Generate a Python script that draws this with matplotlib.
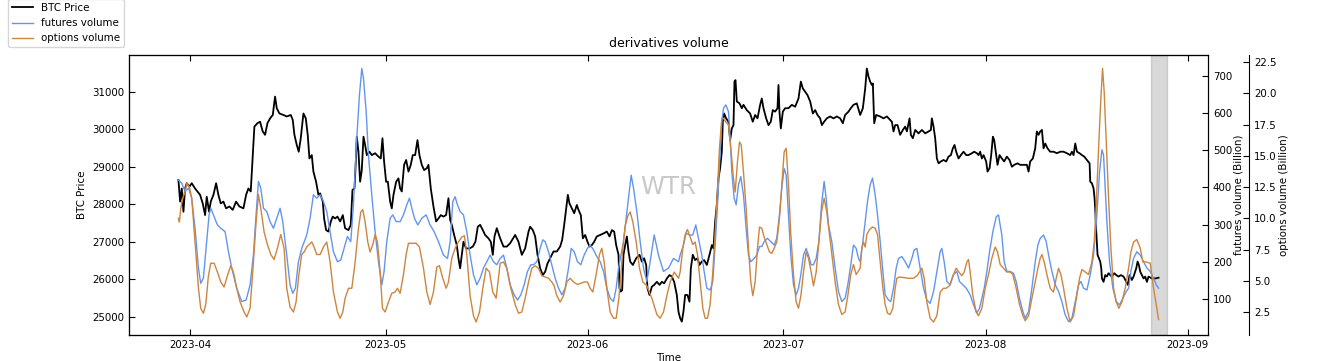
#!/usr/bin/env python3
import matplotlib
matplotlib.use('Agg')
import matplotlib.pyplot as plt
import matplotlib.dates as mdates
import pandas as pd

START = pd.Timestamp('2023-04-01')

# (days since 2023-04-01, BTC price)
btc_points = [
    (-1.79, 28650), (-1.53, 28070), (-1.28, 28420), (-1.02, 27800), (-0.77, 28420),
    (-0.51, 28560), (-0.10, 28470), (0.25, 28560), (0.76, 28420), (1.12, 28340),
    (1.53, 28250), (1.94, 28020), (2.30, 27710), (2.55, 28200), (2.91, 27800),
    (3.17, 28070), (3.58, 28250), (3.99, 28560), (4.34, 28250), (4.70, 28020),
    (5.11, 28070), (5.52, 27890), (6.03, 27940), (6.54, 27850), (7.05, 28070),
    (7.56, 27940), (8.18, 27890), (8.59, 28250), (8.94, 28420), (9.30, 28340),
    (9.56, 29140), (9.86, 30070), (10.32, 30160), (10.73, 30200), (11.14, 29940),
    (11.50, 29850), (11.86, 30160), (12.27, 30290), (12.68, 30380), (13.03, 30870),
    (13.29, 30560), (13.70, 30420), (14.31, 30380), (14.82, 30340), (15.44, 30380),
    (15.74, 30250), (16.00, 29850), (16.36, 29580), (16.66, 29400), (16.97, 29760),
    (17.38, 30420), (17.74, 30290), (18.04, 29850), (18.30, 29220), (18.66, 29310),
    (18.91, 28870), (19.32, 28600), (19.68, 28250),
    (19.94, 28290), (20.35, 28070), (20.55, 27620), (20.86, 27310), (21.22, 27270),
    (21.58, 27540), (21.88, 27670), (22.24, 27620), (22.60, 27670), (23.01, 27540),
    (23.42, 27710), (23.77, 27360), (24.29, 27310), (24.64, 27450), (24.90, 28380),
    (25.21, 28420), (25.46, 29310), (25.56, 29800), (25.82, 29400), (26.07, 28600),
    (26.33, 28910), (26.59, 29800), (26.84, 29580), (27.10, 29310), (27.51, 29400),
    (27.86, 29310), (28.37, 29360), (28.89, 29270), (29.24, 29220), (29.50, 29760),
    (29.75, 29140), (30.06, 28600), (30.32, 28600), (30.68, 28070), (30.93, 27890),
    (31.19, 28250), (31.60, 28600), (31.95, 28690), (32.21, 28420), (32.46, 28340),
    (32.82, 29050), (33.13, 29180), (33.49, 28870), (33.84, 29050), (34.15, 29310),
    (34.51, 29310), (34.87, 29710), (35.17, 29310), (35.53, 29050), (35.89, 28910),
    (36.30, 28960), (36.55, 29050), (36.91, 28420), (37.32, 27940), (37.73, 27540),
    (38.09, 27620), (38.45, 27710), (38.85, 27670), (39.26, 27710), (39.62, 28160),
    (39.88, 27580), (40.13, 27450), (40.49, 27180), (40.90, 26910), (41.15, 26560),
    (41.41, 26290), (41.67, 26650), (41.92, 27000), (42.33, 26820), (42.84, 26820),
    (43.35, 26870), (43.76, 27000), (44.12, 27400), (44.48, 27450), (44.89, 27310),
    (45.24, 27180), (45.76, 27090), (46.11, 27000), (46.42, 26650), (46.68, 27140),
    (47.03, 27360),
    (47.55, 27090), (48.06, 26870), (48.57, 26870), (49.08, 26960), (49.85, 27180),
    (50.36, 27000), (50.87, 26650), (51.38, 26820), (51.90, 27270), (52.15, 27400),
    (52.56, 27310), (52.92, 27140), (53.28, 26650), (53.68, 26290), (54.09, 26110),
    (54.45, 26200), (54.81, 26420), (55.22, 26560), (55.73, 26740), (56.24, 26740),
    (56.75, 26870), (57.06, 27050), (57.37, 27450), (57.62, 27800), (57.93, 28250),
    (58.18, 28020), (58.54, 27890), (58.90, 27760), (59.31, 27980), (59.56, 27850),
    (59.92, 27710), (60.23, 27090), (60.59, 27180), (60.94, 27000), (61.25, 26870),
    (61.61, 26910), (61.97, 27000), (62.37, 27140), (62.89, 27180), (63.40, 27220),
    (63.91, 27270), (64.32, 27140), (64.68, 27310), (65.03, 27270), (65.34, 26910),
    (65.70, 26650), (65.85, 25760), (66.06, 25670), (66.26, 25710), (66.46, 26650),
    (66.72, 26910), (66.98, 27140), (67.23, 26740), (67.49, 26470), (67.90, 26380),
    (68.41, 26560), (68.92, 26650), (69.28, 26470), (69.63, 26560), (69.94, 26380),
    (70.14, 25760), (70.45, 25580), (70.81, 25800), (71.17, 25850), (71.58, 25930),
    (71.99, 25850), (72.34, 25930), (72.70, 25890), (73.11, 26020), (73.52, 26110),
    (73.88, 26070), (74.23, 25930), (74.64, 25580), (74.90, 25130),
    (75.15, 24960), (75.41, 24870), (75.66, 25140), (75.92, 25580), (76.27, 25580),
    (76.58, 25400), (76.79, 26290), (77.09, 26650), (77.45, 26510), (77.81, 26560),
    (78.12, 26380), (78.47, 26470), (78.83, 26510), (79.24, 26380), (79.65, 26650),
    (80.01, 26910), (80.26, 26820), (80.52, 27540), (80.77, 27980), (81.03, 28690),
    (81.28, 28960), (81.54, 29400), (81.69, 30200), (81.90, 30420), (82.20, 30290),
    (82.56, 30200), (82.82, 29710), (83.07, 30020), (83.33, 30110), (83.48, 31270),
    (83.64, 31310), (83.84, 30740), (84.25, 30690), (84.61, 30560), (84.86, 30650),
    (85.37, 30510), (85.88, 30420), (86.29, 30200), (86.65, 30380), (87.01, 30290),
    (87.42, 30650), (87.67, 30820), (87.93, 30560), (88.34, 30290), (88.70, 30110),
    (89.05, 30200), (89.36, 30510), (89.72, 30470), (90.08, 30560), (90.23, 31180),
    (90.38, 30470), (90.59, 30020), (90.90, 30470), (91.25, 30560), (91.76, 30560),
    (92.28, 30650), (92.79, 30600), (93.30, 30820), (93.66, 31270), (93.96, 31090),
    (94.32, 31000), (94.68, 30910), (95.09, 30740), (95.50, 30420), (95.86, 30510),
    (96.21, 30380), (96.62, 30290), (96.88, 30110), (97.23, 30200), (97.64, 30290),
    (98.15, 30340), (98.67, 30290), (99.18, 30340), (99.69, 30290), (100.10, 30160),
    (100.45, 30380), (100.97, 30470), (101.32, 30560), (101.73, 30650), (102.24, 30690),
    (102.76, 30380), (103.17, 30560), (103.53, 31090), (103.78, 31620), (104.04, 31400),
    (104.29, 31270), (104.55, 31180), (104.70, 31220), (104.91, 30160), (105.21, 30380),
    (105.83, 30340), (106.34, 30290), (106.85, 30340), (107.36, 30250), (107.62, 30200),
    (107.87, 29940), (108.13, 30110), (108.49, 30110), (108.89, 29850), (109.30, 29980),
    (109.66, 30070), (109.92, 29940), (110.33, 30290), (110.53, 29850), (110.84, 29760),
    (111.20, 29980), (111.71, 29890), (112.22, 29980), (112.73, 29890), (113.24, 29940),
    (113.60, 29980), (113.75, 30290), (114.01, 30070), (114.26, 29760), (114.52, 29220),
    (114.78, 29090), (115.13, 29140), (115.54, 29180), (115.95, 29140), (116.31, 29270),
    (116.67, 29310), (116.97, 29490), (117.23, 29580), (117.48, 29400), (117.84, 29220),
    (118.20, 29310), (118.61, 29400), (119.02, 29310), (119.37, 29310), (119.89, 29360),
    (120.24, 29400), (120.65, 29360), (120.91, 29310), (121.16, 29400), (121.42, 29220),
    (121.68, 29310), (122.08, 29140), (122.29, 28870), (122.60, 28960), (122.85, 29310),
    (123.11, 29800), (123.31, 29710), (123.62, 29310), (123.82, 29050), (124.13, 29310),
    (124.48, 29220), (124.84, 29140), (125.25, 29270), (125.66, 29180), (126.02, 29000),
    (126.38, 29050), (126.89, 29090), (127.30, 29050), (127.81, 29050), (128.32, 29050),
    (128.58, 28870), (128.83, 29140), (129.24, 29220), (129.60, 29490), (129.85, 29940),
    (130.11, 29850),
    (130.37, 29940), (130.63, 29980), (130.88, 29490), (131.14, 29620), (131.49, 29490),
    (131.90, 29400), (132.41, 29400), (132.93, 29360), (133.44, 29400), (133.95, 29400),
    (134.46, 29360), (134.97, 29310), (135.23, 29400), (135.48, 29310), (135.74, 29620),
    (136.00, 29400), (136.40, 29360), (136.76, 29310), (137.12, 29270), (137.53, 29180),
    (137.94, 29090), (138.04, 28600), (138.29, 28560), (138.55, 28420), (138.70, 28160),
    (138.80, 27890), (138.96, 27270), (139.16, 26650), (139.37, 26560), (139.57, 26470),
    (139.73, 26290), (139.83, 26020), (140.08, 25930), (140.34, 26110), (140.59, 26070),
    (140.85, 26160), (141.10, 26110), (141.36, 26070), (141.72, 26160), (142.03, 26110),
    (142.38, 26070), (142.74, 26110), (143.15, 26070), (143.56, 25930), (143.81, 25850),
    (144.07, 26110), (144.43, 25980), (144.68, 26070), (145.09, 26290), (145.30, 26470),
    (145.50, 26380), (145.71, 26200), (145.96, 26110), (146.22, 26020), (146.47, 26070),
    (146.73, 25930), (146.98, 26070), (147.50, 26020), (148.01, 26020), (148.52, 26040),
]

# (days since 2023-04-01, futures volume in billion)
futures_points = [
    (-1.79, 420), (-1.28, 411), (-0.77, 389), (-0.26, 398), (0.25, 371), (0.76, 290),
    (1.28, 183), (1.63, 142), (2.04, 156), (2.55, 254), (2.91, 326), (3.17, 344),
    (3.58, 326), (4.19, 299), (4.70, 290), (5.37, 281), (5.88, 227), (6.39, 183),
    (7.15, 129), (7.92, 93), (8.59, 97), (9.20, 138), (9.71, 218), (10.12, 326),
    (10.48, 416), (10.84, 398), (11.25, 344), (11.76, 335), (12.27, 308), (12.78, 290),
    (13.29, 317), (13.80, 344), (14.21, 308), (14.82, 218), (15.33, 138), (15.74, 115),
    (16.15, 129), (16.61, 200), (17.12, 236), (17.89, 272), (18.40, 317), (18.91, 380),
    (19.42, 371),
    (19.94, 380), (20.45, 362), (20.96, 335), (21.47, 281), (21.98, 227), (22.60, 200),
    (23.11, 205), (23.62, 236), (24.13, 268), (24.64, 254), (25.05, 353), (25.56, 532),
    (25.97, 648), (26.33, 720), (26.59, 693), (27.00, 604), (27.35, 487), (27.86, 380),
    (28.37, 281), (28.89, 200), (29.40, 138), (29.75, 174), (30.16, 254), (30.68, 317),
    (31.08, 326), (31.60, 308), (32.21, 308), (32.72, 326), (33.23, 353), (33.64, 371),
    (34.00, 344), (34.41, 317), (34.92, 299), (35.53, 317), (36.20, 326), (36.81, 299),
    (37.42, 281), (38.09, 254), (38.85, 218), (39.47, 209), (39.88, 254), (40.29, 362),
    (40.64, 375), (41.00, 353), (41.41, 335), (41.92, 326), (42.43, 281), (42.94, 218),
    (43.46, 165), (43.97, 138), (44.48, 156), (44.99, 183), (45.50, 200), (46.01, 218),
    (46.52, 200), (47.03, 192),
    (47.55, 209), (48.06, 218), (48.57, 183), (49.08, 138), (49.70, 111), (50.21, 97),
    (50.72, 111), (51.23, 138), (51.74, 174), (52.25, 192), (52.66, 192), (53.17, 200),
    (53.68, 236), (54.09, 259), (54.45, 254), (54.96, 227), (55.47, 192), (55.98, 156),
    (56.50, 129), (57.01, 111), (57.52, 129), (58.03, 183), (58.44, 236), (58.90, 227),
    (59.41, 200), (59.92, 192), (60.43, 218), (60.94, 236), (61.35, 245), (61.86, 232),
    (62.37, 214), (62.89, 200), (63.40, 174), (63.91, 129), (64.42, 102), (64.93, 93),
    (65.34, 129), (65.70, 183), (66.06, 218), (66.46, 254), (66.87, 317), (67.23, 371),
    (67.64, 433), (68.00, 398), (68.51, 335), (69.02, 254), (69.53, 183), (70.04, 147),
    (70.55, 200), (71.17, 272), (71.83, 218), (72.60, 174), (73.37, 183), (74.13, 209),
    (74.90, 200),
    (75.15, 218), (75.66, 245), (76.07, 277), (76.58, 272), (77.09, 272), (77.55, 299),
    (77.96, 263), (78.47, 218), (78.83, 174), (79.24, 129), (79.75, 124), (80.16, 147),
    (80.52, 245), (80.88, 353), (81.18, 460), (81.54, 577), (81.80, 613), (82.15, 622),
    (82.56, 604), (82.82, 532), (83.07, 442), (83.43, 371), (83.74, 353), (84.10, 407),
    (84.45, 429), (84.86, 380), (85.27, 290), (85.63, 218), (85.99, 200), (86.50, 209),
    (86.91, 218), (87.32, 241), (87.67, 241), (88.03, 254), (88.54, 263), (89.05, 254),
    (89.57, 245), (89.97, 263), (90.38, 326), (90.74, 398), (91.10, 451), (91.41, 433),
    (91.76, 326), (92.12, 218), (92.53, 138), (92.94, 111), (93.30, 129), (93.66, 165),
    (94.07, 218), (94.47, 236), (94.83, 218), (95.24, 192), (95.60, 192), (96.01, 209),
    (96.42, 254), (96.83, 353), (97.23, 416), (97.54, 371), (97.90, 299), (98.41, 254),
    (98.92, 183), (99.43, 120), (99.94, 93), (100.45, 102), (100.86, 138), (101.32, 192),
    (101.73, 245), (102.14, 236), (102.50, 209),
    (102.76, 200), (103.17, 254), (103.53, 308), (103.88, 362), (104.29, 407), (104.65, 425),
    (105.06, 380), (105.42, 326), (105.83, 254), (106.24, 174), (106.59, 111), (107.11, 97),
    (107.46, 93), (107.87, 129), (108.28, 183), (108.64, 209), (109.15, 214), (109.66, 200),
    (110.17, 183), (110.68, 209), (111.04, 232), (111.45, 236), (111.96, 183), (112.47, 129),
    (112.98, 97), (113.49, 88), (114.01, 120), (114.52, 174), (115.03, 227), (115.28, 236),
    (115.64, 200), (116.05, 147), (116.56, 138), (117.07, 165), (117.58, 174), (117.99, 147),
    (118.50, 138), (119.02, 129), (119.63, 111), (120.14, 84), (120.65, 62), (121.06, 75),
    (121.42, 102), (121.78, 129), (122.19, 174), (122.60, 227), (123.11, 281), (123.62, 321),
    (123.97, 326), (124.48, 272), (124.84, 200), (125.25, 174), (125.76, 174), (126.27, 169),
    (126.68, 147), (127.19, 102), (127.71, 66), (128.06, 48), (128.58, 66), (129.09, 129),
    (129.60, 200), (130.01, 245),
    (130.37, 263), (130.88, 272), (131.29, 254), (131.65, 218), (132.16, 174), (132.67, 138),
    (133.18, 120), (133.69, 93), (134.20, 57), (134.72, 39), (135.23, 48), (135.74, 93),
    (136.25, 138), (136.61, 147), (137.02, 129), (137.53, 124), (138.04, 165), (138.55, 218),
    (139.06, 326), (139.47, 442), (139.83, 501), (140.08, 487), (140.34, 398), (140.59, 308),
    (141.00, 200), (141.51, 129), (142.03, 93), (142.54, 84), (143.05, 102), (143.56, 120),
    (143.92, 129), (144.27, 174), (144.68, 209), (145.19, 227), (145.71, 218), (146.22, 200),
    (146.73, 183), (147.24, 174), (147.75, 156), (148.16, 138), (148.52, 129),
]

# (days since 2023-04-01, options volume in billion)
options_points = [
    (-1.79, 10.0), (-1.64, 9.7), (-1.43, 10.8), (-1.13, 11.6), (-0.77, 12.1), (-0.51, 12.8),
    (-0.10, 12.5), (0.25, 11.6), (0.76, 8.1), (1.28, 4.4), (1.63, 2.8), (2.04, 2.4),
    (2.40, 3.1), (2.81, 5.4), (3.17, 6.4), (3.68, 6.4), (4.19, 5.7), (4.70, 4.9),
    (5.21, 4.5), (5.72, 5.4), (6.23, 6.2), (6.64, 5.7), (7.15, 4.4), (7.67, 3.3),
    (8.28, 2.5), (8.69, 2.1), (9.20, 2.8), (9.71, 6.5), (10.12, 9.7), (10.48, 11.9),
    (10.84, 10.8), (11.35, 8.9), (11.86, 7.9), (12.37, 7.1), (12.88, 6.7), (13.39, 7.6),
    (13.90, 8.7), (14.41, 7.6), (14.82, 4.4), (15.33, 2.9), (15.85, 2.5), (16.25, 3.3),
    (16.66, 5.4), (17.12, 7.1), (17.48, 7.3), (17.89, 7.7), (18.25, 7.9), (18.66, 8.1),
    (19.01, 7.7), (19.42, 7.1),
    (19.94, 7.1), (20.45, 7.7), (20.96, 8.1), (21.47, 6.5), (21.98, 4.1), (22.60, 2.5),
    (23.01, 2.0), (23.42, 2.5), (23.77, 3.6), (24.29, 4.4), (24.80, 4.4), (25.31, 6.5),
    (25.82, 9.2), (26.18, 10.5), (26.48, 10.7), (26.84, 9.7), (27.25, 8.1), (27.61, 7.3),
    (28.02, 7.9), (28.37, 8.7), (28.73, 8.1), (29.14, 5.7), (29.50, 2.8), (29.91, 2.5),
    (30.42, 3.3), (30.93, 4.0), (31.44, 4.1), (31.80, 4.4), (32.21, 4.0), (32.72, 5.5),
    (33.13, 7.1), (33.49, 8.0), (34.66, 8.0), (35.17, 7.7), (35.79, 6.0), (36.30, 4.1),
    (36.81, 3.1), (37.32, 4.1), (37.83, 6.1), (38.24, 6.2), (38.75, 5.2), (39.26, 4.4),
    (39.62, 4.9), (40.13, 6.8), (40.64, 7.6), (41.15, 8.1), (41.67, 8.5), (42.07, 8.6),
    (42.43, 7.1), (42.94, 3.8), (43.46, 2.2), (43.86, 1.7), (44.38, 2.5), (44.89, 4.4),
    (45.40, 6.0), (45.91, 5.7), (46.42, 4.1), (46.93, 3.6),
    (47.55, 6.4), (48.06, 6.5), (48.57, 6.0), (49.19, 4.4), (49.85, 3.1), (50.36, 2.4),
    (50.87, 2.5), (51.38, 3.6), (51.90, 4.9), (52.41, 6.0), (52.92, 6.2), (53.43, 6.0),
    (53.94, 5.4), (54.45, 5.3), (54.96, 5.2), (55.47, 4.9), (55.83, 4.6), (56.24, 3.8),
    (56.75, 3.3), (57.26, 3.8), (57.77, 4.9), (58.28, 5.2), (58.80, 4.9), (59.41, 4.7),
    (59.92, 4.8), (60.43, 4.9), (60.94, 4.9), (61.35, 4.4), (61.76, 4.1), (62.27, 5.5),
    (62.78, 7.1), (63.14, 7.6), (63.50, 6.5), (63.91, 4.4), (64.42, 2.5), (64.93, 2.0),
    (65.34, 2.0), (65.75, 3.6), (66.06, 5.5), (66.36, 7.6), (66.72, 9.4), (67.13, 10.2),
    (67.49, 10.5), (67.90, 9.7), (68.41, 8.1), (68.92, 6.0), (69.43, 4.9), (70.04, 4.6),
    (70.81, 3.6), (71.58, 2.3), (72.09, 2.0), (72.60, 2.5), (73.11, 3.8), (73.62, 4.9),
    (74.23, 5.7), (74.90, 5.2),
    (75.15, 5.7), (75.56, 7.6), (75.92, 8.7), (76.27, 9.1), (76.68, 8.5), (77.09, 7.9),
    (77.45, 8.1), (77.81, 7.1), (78.22, 4.9), (78.63, 2.8), (78.98, 2.0), (79.34, 2.0),
    (79.75, 3.1), (80.16, 5.7), (80.52, 8.9), (80.88, 12.4), (81.18, 15.6), (81.54, 18.0),
    (81.80, 18.0), (82.15, 17.7), (82.56, 17.5), (82.92, 15.6), (83.33, 13.2), (83.59, 12.1),
    (83.94, 14.5), (84.25, 16.1), (84.51, 15.9), (84.86, 13.7), (85.27, 10.8), (85.63, 7.6),
    (85.99, 4.9), (86.29, 3.8), (86.65, 4.9), (87.01, 7.6), (87.32, 9.3), (87.67, 9.2),
    (88.03, 8.5), (88.44, 7.9), (88.85, 7.3), (89.21, 7.2), (89.57, 7.6), (89.97, 8.1),
    (90.38, 10.0), (90.74, 12.7), (91.10, 15.3), (91.41, 15.6), (91.76, 12.7), (92.12, 8.7),
    (92.53, 5.5), (92.94, 3.3), (93.30, 2.8), (93.66, 3.8), (94.07, 5.7), (94.47, 7.3),
    (94.83, 6.8), (95.24, 5.7), (95.60, 4.6), (96.01, 5.7), (96.42, 8.1), (96.83, 10.5),
    (97.23, 11.6), (97.64, 10.5), (98.05, 8.7), (98.41, 7.1), (98.92, 4.9), (99.43, 3.1),
    (99.94, 2.3), (100.45, 2.5), (100.86, 3.8), (101.32, 5.5), (101.73, 6.3), (102.14, 5.5),
    (102.76, 6.0), (103.01, 7.6), (103.27, 8.1), (103.53, 7.7), (103.78, 8.7), (104.19, 9.1),
    (104.65, 9.3), (105.06, 9.2), (105.42, 8.7), (105.83, 6.5), (106.24, 4.4), (106.59, 3.1),
    (106.95, 2.4), (107.36, 2.3), (107.77, 2.8), (108.13, 4.4), (108.38, 5.2), (108.79, 5.3),
    (110.17, 5.2), (110.94, 5.2), (111.45, 5.4), (111.86, 5.7), (112.22, 6.0), (112.57, 5.2),
    (112.98, 3.3), (113.49, 2.0), (114.01, 1.7), (114.52, 2.2), (115.03, 4.1), (115.54, 4.4),
    (115.95, 4.4), (116.46, 4.6), (116.97, 5.4), (117.48, 6.0), (117.89, 5.7), (118.35, 5.4),
    (118.71, 5.7), (119.12, 6.5), (119.37, 6.7), (119.63, 5.7), (120.04, 3.8), (120.55, 2.5),
    (120.91, 2.2), (121.42, 2.8), (121.93, 4.4), (122.44, 5.5), (122.95, 6.8), (123.46, 7.7),
    (123.82, 7.3), (124.23, 6.3), (124.74, 6.0), (125.25, 5.7), (125.76, 5.7), (126.17, 5.5),
    (126.68, 4.4), (127.19, 3.1), (127.71, 2.2), (128.06, 1.8), (128.58, 2.2), (129.09, 3.6),
    (129.60, 4.9), (130.01, 6.0),
    (130.37, 6.8), (130.63, 7.1), (130.98, 6.5), (131.39, 5.5), (131.90, 4.4), (132.41, 4.1),
    (132.82, 5.2), (133.18, 6.0), (133.54, 5.5), (133.95, 4.4), (134.46, 2.8), (134.97, 1.7),
    (135.48, 2.2), (136.00, 3.9), (136.40, 5.2), (136.76, 5.9), (137.27, 5.7), (137.78, 5.5),
    (138.29, 6.5), (138.65, 8.1), (138.96, 11.1), (139.32, 15.6), (139.67, 19.6), (139.93, 22.0),
    (140.18, 20.1), (140.49, 16.1), (140.85, 11.6), (141.21, 7.6), (141.62, 4.4), (142.03, 3.3),
    (142.43, 2.8), (142.89, 3.3), (143.40, 4.4), (143.92, 6.0), (144.27, 7.3), (144.68, 8.1),
    (145.19, 8.3), (145.71, 7.6), (146.11, 6.5), (146.63, 6.5), (147.24, 6.4), (147.75, 4.4),
    (148.16, 3.1), (148.52, 1.9),
]

shade_range = (147.3, 149.8)


def to_dates(days):
    return START + pd.to_timedelta(list(days), unit='D')


def split(points):
    days, vals = zip(*points)
    return to_dates(days), list(vals)


plt.rcParams['font.family'] = 'DejaVu Sans'
plt.rcParams['font.size'] = 7.4

fig = plt.figure(figsize=(13.36, 3.61), dpi=100)
ax = fig.add_axes([0.0966, 0.072, 0.8076, 0.7756])
ax2 = ax.twinx()
ax3 = ax.twinx()
# second right axis sits about 41 px outside the first one
ax3.spines['right'].set_position(('outward', 29.5))

btc_t, btc_v = split(btc_points)
fut_t, fut_v = split(futures_points)
opt_t, opt_v = split(options_points)

l1, = ax.plot(btc_t, btc_v, color='black', lw=1.3, label='BTC Price')
l2, = ax2.plot(fut_t, fut_v, color='cornflowerblue', lw=1.0, label='futures volume')
l3, = ax3.plot(opt_t, opt_v, color='peru', lw=1.0, label='options volume')

ax.axvspan(START + pd.Timedelta(days=shade_range[0]),
           START + pd.Timedelta(days=shade_range[1]), color='gray', alpha=0.3)

ax.set_xlim(START + pd.Timedelta(days=-9.36), START + pd.Timedelta(days=156.1))
ax.set_ylim(24512, 31979)
ax2.set_ylim(3, 756)
ax3.set_ylim(0.66, 23.06)

ax.xaxis.set_major_locator(mdates.MonthLocator())
ax.xaxis.set_major_formatter(mdates.DateFormatter('%Y-%m'))
ax3.set_yticks([2.5, 5.0, 7.5, 10.0, 12.5, 15.0, 17.5, 20.0, 22.5])

ax.tick_params(axis='x', direction='in', top=True, length=4)
ax.tick_params(axis='y', direction='in', length=4)
ax2.tick_params(axis='y', direction='in', length=4)
ax3.tick_params(axis='y', direction='in', length=4)

ax.set_xlabel('Time', labelpad=2)
ax.set_ylabel('BTC Price')
ax2.set_ylabel('futures volume (Billion)', labelpad=1)
ax3.set_ylabel('options volume (Billion)', labelpad=2)
ax.set_title('derivatives volume', fontsize=9)

ax.text(0.5, 0.504, 'WTR', transform=ax.transAxes, ha='center', va='baseline',
        fontsize=17.5, color='#c8c8c8', zorder=0)

fig.legend(handles=[l1, l2, l3], loc='upper left', bbox_to_anchor=(0.006, 1.003),
           borderaxespad=0, fontsize=7.4)

fig.savefig('out.png', dpi=100)
